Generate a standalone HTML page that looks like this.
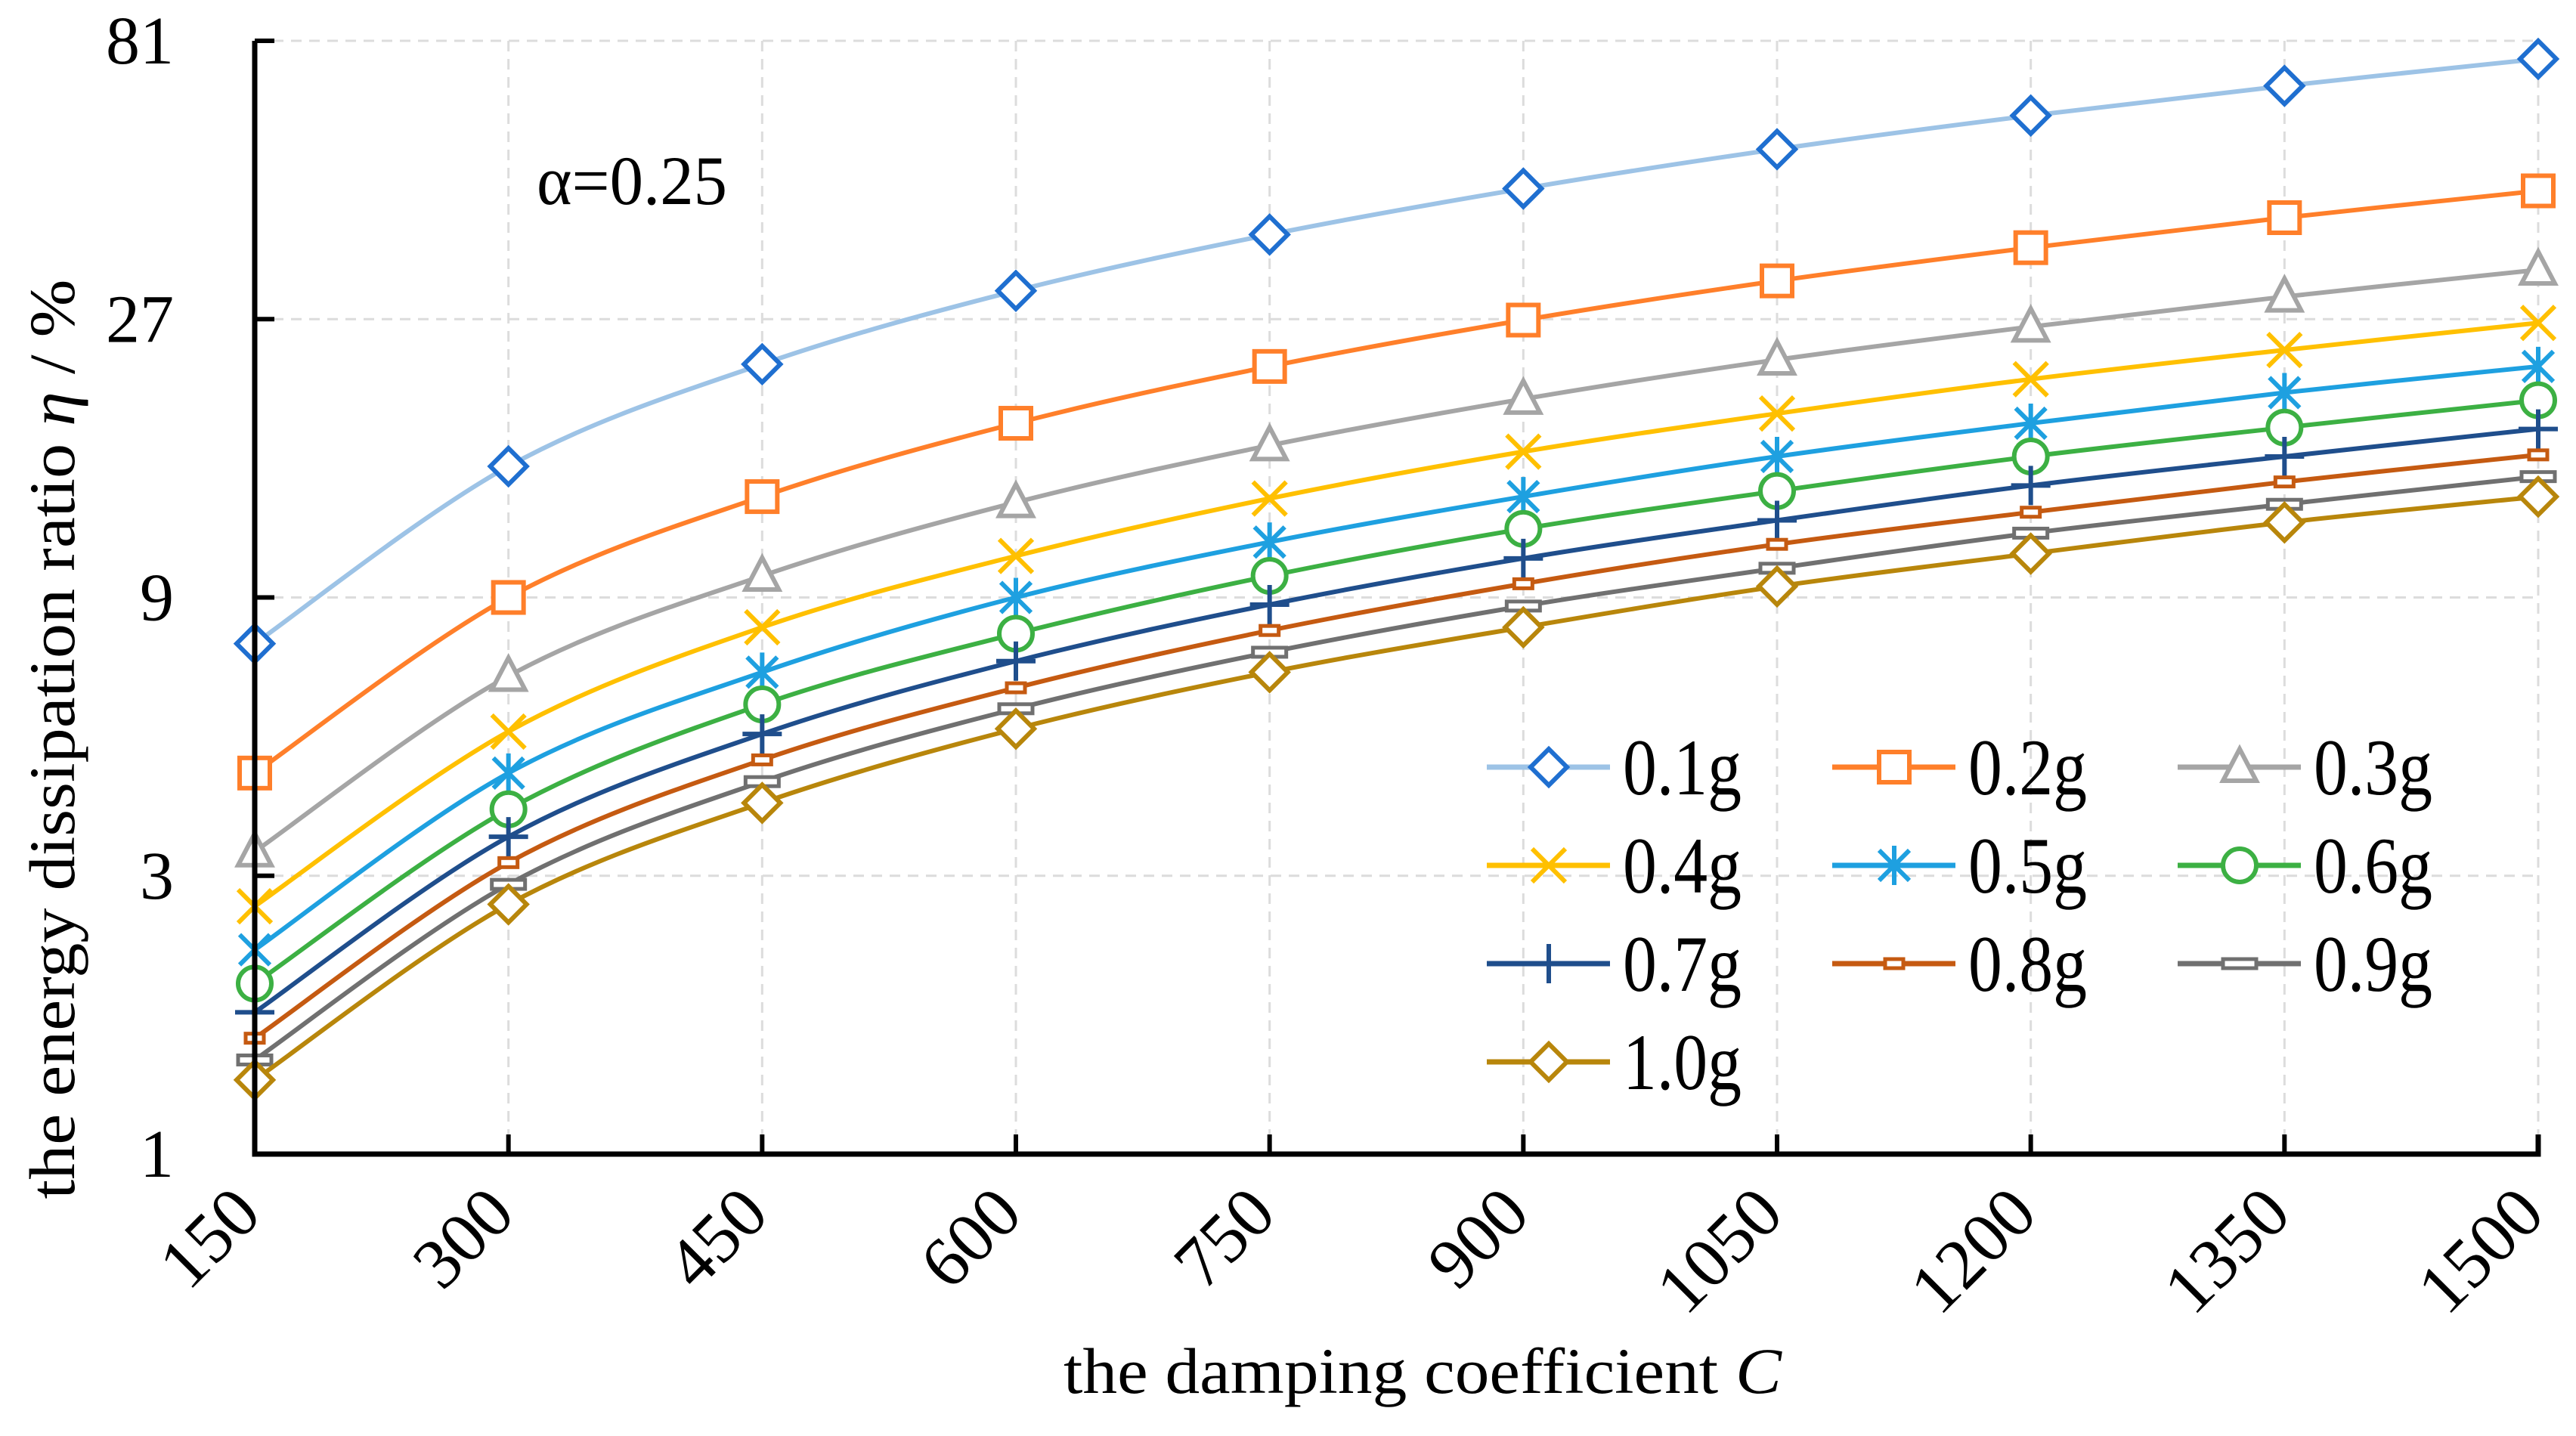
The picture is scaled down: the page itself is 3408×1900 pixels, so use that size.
<!DOCTYPE html>
<html><head><meta charset="utf-8"><style>
html,body{margin:0;padding:0;background:#fff;}
svg{display:block;font-family:"Liberation Serif","Times New Roman",serif;}
</style></head><body>
<svg id="chart" width="3408" height="1900" viewBox="0 0 3408 1900" xmlns="http://www.w3.org/2000/svg">
<g id="grid"></g>
<g id="series"></g>
<g id="axes"></g>
<text x="710" y="270" font-size="92" textLength="252" lengthAdjust="spacingAndGlyphs">α=0.25</text>
<text x="1882" y="1843" font-size="86" text-anchor="middle" textLength="950" lengthAdjust="spacingAndGlyphs">the damping coefficient <tspan font-style="italic">C</tspan></text>
<text transform="translate(98,978) rotate(-90)" font-size="86" text-anchor="middle" textLength="1217" lengthAdjust="spacingAndGlyphs">the energy dissipation ratio <tspan font-style="italic">η</tspan> / %</text>
<g id="legend"></g>
</svg>
<script>
const categories = [150,300,450,600,750,900,1050,1200,1350,1500];
const seriesNames = ["0.1g","0.2g","0.3g","0.4g","0.5g","0.6g","0.7g","0.8g","0.9g","1.0g"];
const s01 = [7.5,15.1,22.6,30.2,37.7,45.2,52.8,60.3,67.8,75.4];
const s02 = [4.5,9.0,13.4,17.9,22.4,26.9,31.4,35.8,40.3,44.8];
const s03 = [3.3,6.6,9.8,13.1,16.4,19.7,23.0,26.2,29.5,32.8];
const s04 = [2.66,5.3,8.0,10.6,13.3,16.0,18.6,21.3,23.9,26.6];
const s05 = [2.24,4.5,6.7,9.0,11.2,13.4,15.7,17.9,20.2,22.4];
const s06 = [1.96,3.9,5.9,7.8,9.8,11.8,13.7,15.7,17.6,19.6];
const s07 = [1.75,3.5,5.25,7.0,8.75,10.5,12.2,14.0,15.7,17.5];
const s08 = [1.58,3.16,4.74,6.3,7.9,9.5,11.1,12.6,14.2,15.8];
const s09 = [1.45,2.9,4.35,5.8,7.25,8.7,10.1,11.6,13.0,14.5];
const s10 = [1.34,2.68,4.0,5.36,6.7,8.0,9.4,10.7,12.1,13.4];
const yTicks = [1,3,9,27,81];

const allSeries=[s01,s02,s03,s04,s05,s06,s07,s08,s09,s10];
const lineColors=["#9dc3e6","#ff7f2a","#a5a5a5","#ffc000","#1ea0e0","#3cb043","#1f4e8c","#c55a11","#707070","#b8860b"];
const markColors=["#1f6fd0","#ff7f2a","#a5a5a5","#ffc000","#1ea0e0","#3cb043","#1f4e8c","#c55a11","#707070","#b8860b"];
const markTypes=["diamond","square","triangle","x","star","circle","plus","bar","bar2","diamond"];
const NS="http://www.w3.org/2000/svg";
const X0=337,X1=3358,Y0=1527,Y1=54;
function xs(c){return X0+(c-150)/(1500-150)*(X1-X0);}
function ys(v){return Y0-Math.log(v)/Math.log(81)*(Y0-Y1);}
function mk(tag,attrs,parent){const e=document.createElementNS(NS,tag);for(const k in attrs)e.setAttribute(k,attrs[k]);parent.appendChild(e);return e;}
const grid=document.getElementById('grid'),axes=document.getElementById('axes'),ser=document.getElementById('series'),leg=document.getElementById('legend');
categories.forEach((c,i)=>{
  if(i>0){const g=mk('line',{x1:xs(c),x2:xs(c),y1:Y1,y2:Y0,stroke:'#dcdcdc','stroke-width':3,'stroke-dasharray':'14 10'},grid);
  
  }
  const t=mk('line',{x1:xs(c),x2:xs(c),y1:Y0,y2:Y0-26,stroke:'#000','stroke-width':6},axes);
  
  
  const lx=xs(c)+12,ly=1610;
  const tl=mk('text',{x:lx,y:ly,'font-size':94,'text-anchor':'end',transform:`rotate(-45 ${lx} ${ly})`},axes);
  tl.textContent=c;
  
  
});
yTicks.forEach(v=>{
  if(v>1){const g=mk('line',{x1:X0,x2:X1,y1:ys(v),y2:ys(v),stroke:'#dcdcdc','stroke-width':3,'stroke-dasharray':'14 10'},grid);
  
  }
  const t=mk('line',{x1:X0,x2:X0+26,y1:ys(v),y2:ys(v),stroke:'#000','stroke-width':6},axes);
  
  
  const tl=mk('text',{x:230,y:ys(v)+30,'font-size':90,'text-anchor':'end'},axes);
  tl.textContent=v;
  
  
});
const ax=mk('path',{d:`M${X0} ${Y1} L${X0} ${Y0} L${X1} ${Y0} L${X1} ${Y0-26}`,fill:'none',stroke:'#000','stroke-width':7},axes);



function marker(type,x,y,col,parent){
  const sw=6,r=24;let e;
  if(type==='diamond')e=mk('path',{d:`M${x} ${y-r} L${x+r} ${y} L${x} ${y+r} L${x-r} ${y}Z`,fill:'#fff',stroke:col,'stroke-width':sw},parent);
  else if(type==='square')e=mk('rect',{x:x-20,y:y-20,width:40,height:40,fill:'#fff',stroke:col,'stroke-width':sw},parent);
  else if(type==='triangle')e=mk('path',{d:`M${x} ${y-24} L${x+22} ${y+18} L${x-22} ${y+18}Z`,fill:'#fff',stroke:col,'stroke-width':sw},parent);
  else if(type==='x')e=mk('path',{d:`M${x-22} ${y-22} L${x+22} ${y+22} M${x+22} ${y-22} L${x-22} ${y+22}`,stroke:col,'stroke-width':sw},parent);
  else if(type==='star')e=mk('path',{d:`M${x-20} ${y-20} L${x+20} ${y+20} M${x+20} ${y-20} L${x-20} ${y+20} M${x} ${y-26} L${x} ${y+26}`,stroke:col,'stroke-width':sw},parent);
  else if(type==='circle')e=mk('circle',{cx:x,cy:y,r:22,fill:'#fff',stroke:col,'stroke-width':sw},parent);
  else if(type==='plus')e=mk('path',{d:`M${x-26} ${y} L${x+26} ${y} M${x} ${y-26} L${x} ${y+26}`,stroke:col,'stroke-width':sw},parent);
  else if(type==='bar')e=mk('rect',{x:x-12,y:y-6,width:24,height:12,fill:'#fff',stroke:col,'stroke-width':5},parent);
  else e=mk('rect',{x:x-22,y:y-6,width:44,height:12,fill:'#fff',stroke:col,'stroke-width':5},parent);
  
  
}
function smooth(pts){
  let d=`M${pts[0][0]} ${pts[0][1]}`;
  for(let i=0;i<pts.length-1;i++){
    const p0=pts[i-1]||pts[i],p1=pts[i],p2=pts[i+1],p3=pts[i+2]||p2;
    const c1=[p1[0]+(p2[0]-p0[0])/6,p1[1]+(p2[1]-p0[1])/6],c2=[p2[0]-(p3[0]-p1[0])/6,p2[1]-(p3[1]-p1[1])/6];
    d+=` C${c1[0]} ${c1[1]} ${c2[0]} ${c2[1]} ${p2[0]} ${p2[1]}`;
  }
  return d;
}
allSeries.forEach((arr,si)=>{
  const g=mk('g',{},ser);
  
  
  const pts=arr.map((v,i)=>[xs(categories[i]),ys(v)]);
  const p=mk('path',{d:smooth(pts),fill:'none',stroke:lineColors[si],'stroke-width':6},g);
  
  
  pts.forEach(pt=>marker(markTypes[si],pt[0],pt[1],markColors[si],g));
});
seriesNames.forEach((n,i)=>{
  const col=i%3,row=Math.floor(i/3);
  const x=1967+col*457,y=1015+row*130;
  const g=mk('g',{},leg);
  
  
  mk('line',{x1:x,x2:x+163,y1:y,y2:y,stroke:lineColors[i],'stroke-width':7},g);
  marker(markTypes[i],x+82,y,markColors[i],g);
  const t=mk('text',{x:x+180,y:y+36,'font-size':106,textLength:157,lengthAdjust:'spacingAndGlyphs'},g);
  t.textContent=n;
});
</script>
</body></html>
